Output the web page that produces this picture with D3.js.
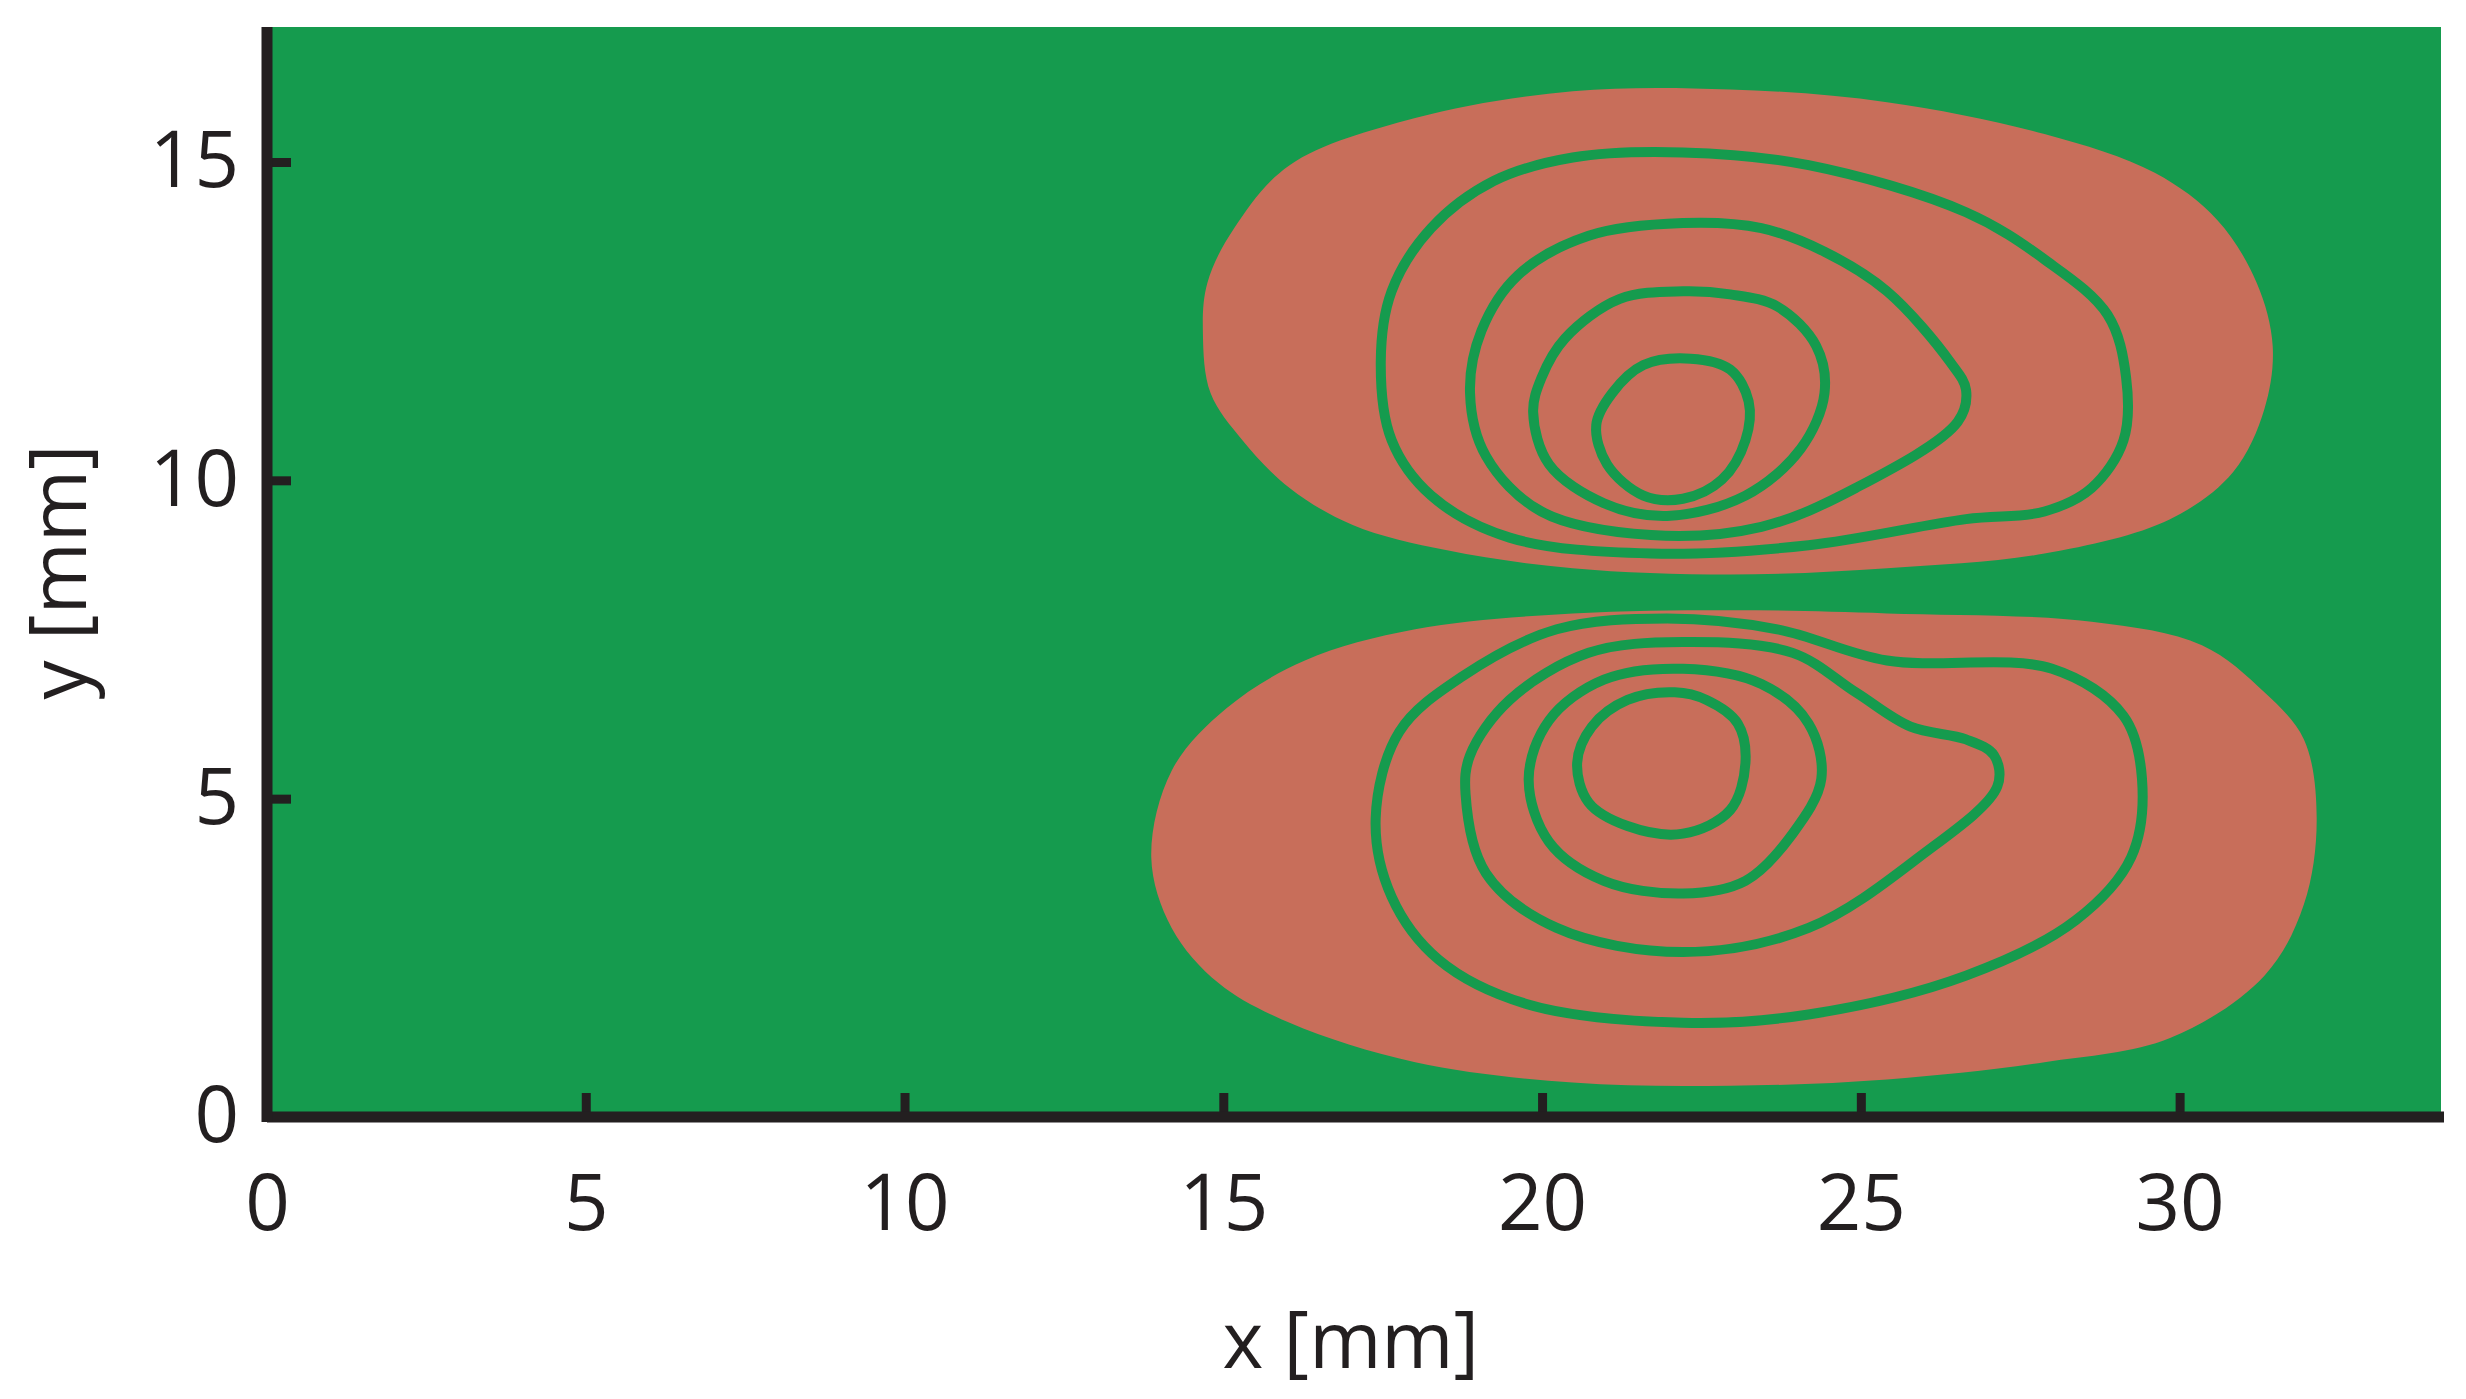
<!DOCTYPE html>
<html>
<head>
<meta charset="utf-8">
<script src="https://cdn.jsdelivr.net/npm/d3@7"></script>
<style>
  body { margin: 0; background: #fff; }
  text { font-family: "Open Sans", "DejaVu Sans", sans-serif; fill: #231f20; }
</style>
</head>
<body>
<svg id="chart" width="2466" height="1399"></svg>
<script>
// axis ticks
var xTicks = [0, 5, 10, 15, 20, 25, 30];
var yTicks = [0, 5, 10, 15];

// filled regions (x, y in mm)
var upperRegion = [[14.68,12.31],[14.80,11.37],[15.30,10.63],[16.04,9.88],[17.03,9.30],[18.51,8.90],[20.48,8.62],[22.95,8.52],[25.41,8.62],[27.88,8.85],[29.85,9.39],[30.84,10.13],[31.33,11.12],[31.46,12.11],[31.21,13.10],[30.59,14.09],[29.61,14.83],[27.88,15.44],[25.41,15.94],[22.95,16.14],[20.48,16.11],[18.01,15.69],[16.04,14.95],[15.17,13.96],[14.75,13.10]];
var lowerRegion = [[13.87,4.08],[14.19,2.97],[14.93,2.10],[16.04,1.48],[18.01,0.86],[20.48,0.54],[22.95,0.49],[25.41,0.59],[27.88,0.86],[29.85,1.24],[31.33,2.22],[31.95,3.34],[32.15,4.69],[31.95,5.93],[31.33,6.67],[30.35,7.41],[28.62,7.78],[25.41,7.91],[22.95,7.96],[20.48,7.91],[18.01,7.66],[16.28,7.17],[15.05,6.42],[14.19,5.44]];

// contour lines (x, y in mm)
var contourU1 = [[17.47,11.86],[17.64,10.63],[18.26,9.76],[19.49,9.10],[21.71,8.85],[24.18,8.98],[26.65,9.39],[27.88,9.51],[28.62,9.88],[29.12,10.63],[29.16,11.62],[28.87,12.60],[27.88,13.47],[26.65,14.21],[24.18,14.95],[22.21,15.15],[20.48,15.07],[19.24,14.70],[18.26,13.96],[17.64,12.97]];
var contourU2 = [[18.87,11.37],[19.12,10.38],[19.99,9.51],[21.71,9.14],[23.44,9.27],[24.92,9.88],[26.52,10.92],[26.65,11.42],[26.40,11.86],[25.41,12.97],[24.43,13.59],[23.44,13.96],[22.21,14.04],[20.73,13.84],[19.62,13.22],[19.05,12.35]];
var contourU3 = [[19.86,11.07],[20.11,10.25],[20.97,9.64],[21.96,9.44],[23.19,9.76],[24.06,10.50],[24.43,11.37],[24.30,12.11],[23.69,12.73],[22.95,12.92],[22.21,12.97],[21.22,12.85],[20.36,12.23],[19.99,11.61]];
var contourU4 = [[20.85,10.87],[21.02,10.25],[21.59,9.76],[22.21,9.71],[22.82,10.01],[23.19,10.63],[23.24,11.24],[22.95,11.74],[22.33,11.91],[21.59,11.81],[21.10,11.37]];
var contourL1 = [[17.39,4.69],[17.64,3.46],[18.38,2.47],[19.74,1.78],[22.21,1.48],[24.18,1.61],[26.65,2.22],[28.37,3.09],[29.24,4.08],[29.41,5.31],[29.12,6.30],[28.00,7.04],[25.41,7.17],[23.69,7.66],[21.96,7.83],[20.23,7.66],[18.75,6.92],[17.76,6.05]];
var contourL2 = [[18.80,5.07],[19.12,3.83],[20.23,2.97],[22.21,2.59],[24.18,2.97],[25.91,4.08],[27.14,5.19],[27.09,5.68],[26.65,5.93],[25.78,6.13],[24.92,6.67],[23.93,7.29],[22.21,7.46],[20.73,7.29],[19.49,6.55],[18.87,5.68]];
var contourL3 = [[19.79,5.31],[20.11,4.32],[20.97,3.71],[22.21,3.51],[23.19,3.71],[23.93,4.45],[24.38,5.31],[24.18,6.18],[23.44,6.80],[22.21,7.04],[20.97,6.87],[20.11,6.23]];
var contourL4 = [[20.55,5.56],[20.73,4.94],[21.34,4.57],[22.21,4.45],[22.95,4.82],[23.19,5.56],[23.07,6.18],[22.58,6.55],[22.08,6.67],[21.34,6.55],[20.78,6.13]];

var contours = [contourU1, contourU2, contourU3, contourU4, contourL1, contourL2, contourL3, contourL4];

var green = '#159b4e', salmon = '#c86e5a';
var margin = {left: 267, right: 25, top: 27, bottom: 282};
var W = 2466, H = 1399;

var svg = d3.select('#chart');
var x = d3.scaleLinear().domain([0, 34.1]).range([margin.left, W - margin.right]);
var y = d3.scaleLinear().domain([0, 17.12]).range([H - margin.bottom, margin.top]);

svg.append('rect')
    .attr('x', x(0)).attr('y', y(17.12))
    .attr('width', x(34.1) - x(0)).attr('height', y(0) - y(17.12))
    .attr('fill', green);

var smooth = d3.line().x(function(d) { return x(d[0]); }).y(function(d) { return y(d[1]); })
    .curve(d3.curveCatmullRomClosed.alpha(0.5));

[upperRegion, lowerRegion].forEach(function(r) {
    svg.append('path').attr('d', smooth(r)).attr('fill', salmon);
});

contours.forEach(function(c) {
    svg.append('path').attr('d', smooth(c))
        .attr('fill', 'none').attr('stroke', green)
        .attr('stroke-width', 10).attr('stroke-linejoin', 'round');
});

// axes
var xAxis = d3.axisBottom(x).tickValues(xTicks).tickSize(-24).tickPadding(58).tickFormat(d3.format('d'));
var yAxis = d3.axisLeft(y).tickValues(yTicks).tickSize(-24).tickPadding(28).tickFormat(d3.format('d'));

var gx = svg.append('g').attr('transform', 'translate(0,' + y(0) + ')').call(xAxis);
var gy = svg.append('g').attr('transform', 'translate(' + x(0) + ',0)').call(yAxis);

[gx, gy].forEach(function(g) {
    g.select('.domain').remove();
    g.selectAll('.tick line').attr('stroke', '#231f20').attr('stroke-width', 9);
    g.selectAll('.tick text').attr('font-size', 78).style('fill', '#231f20');
});
gx.selectAll('.tick text').attr('dy', '0.71em');

svg.append('line').attr('x1', x(0)).attr('x2', W - margin.right + 3)
    .attr('y1', y(0)).attr('y2', y(0)).attr('stroke', '#231f20').attr('stroke-width', 11);
svg.append('line').attr('x1', x(0)).attr('x2', x(0))
    .attr('y1', margin.top).attr('y2', y(0) + 5).attr('stroke', '#231f20').attr('stroke-width', 11);

svg.append('text').attr('x', x(17)).attr('y', 1368)
    .attr('text-anchor', 'middle').attr('font-size', 78).text('x [mm]');
svg.append('text').attr('transform', 'translate(86,' + y(8.56) + ') rotate(-90)')
    .attr('text-anchor', 'middle').attr('font-size', 78).text('y [mm]');
</script>
</body>
</html>
